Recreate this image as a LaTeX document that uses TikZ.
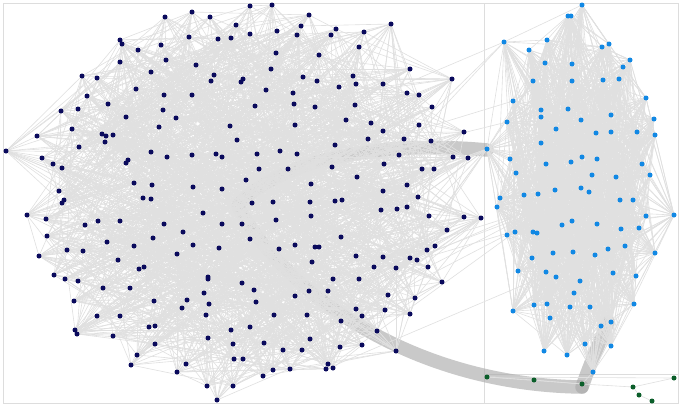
\documentclass[tikz,border=0pt]{standalone}
\begin{document}
\definecolor{navy}{HTML}{0A0A5C}
\definecolor{bluec}{HTML}{1188E4}
\definecolor{greenc}{HTML}{0B5E2A}
\definecolor{edgec}{HTML}{E0E0E0}
\definecolor{panelc}{HTML}{DDDDDD}
\definecolor{bundlec}{HTML}{A8A8A8}
\tikzset{
  edge/.style={draw=edgec, line width=0.6pt},
  panel/.style={draw=panelc, line width=0.9pt},
  bundle/.style={draw=bundlec, line width=13.5pt, opacity=0.62, line cap=round},
  ldot/.style={circle, fill=navy, inner sep=0pt, minimum size=5pt},
  bdot/.style={circle, fill=bluec, inner sep=0pt, minimum size=5pt},
  gdot/.style={circle, fill=greenc, inner sep=0pt, minimum size=5pt},
}
\begin{tikzpicture}[x=1pt,y=-1pt]
\useasboundingbox (0,0) rectangle (680,407);
\fill[white] (0,0) rectangle (680,407);
% panels
\draw[panel] (3,3) rectangle (678,403);
\draw[panel] (484,3) -- (484,403);
\draw[panel] (484,374) -- (678,374);
% left cluster coordinates
\foreach \x/\y [count=\n] in {
120/40,122/44,138/50,120/62,151/72,82/76,97/78,136/89,87/96,108/104,61/111,78/109,126/117,159/127,72/129,37/136,102/134,106/136,113/135,105/142,79/147,6/151,151/152,42/158,53/164,62/168,128/160,126/163,134/183,152/185,59/191,64/200,62/203,143/198,151/199,
165/17,192/12,210/17,250/6,272/5,309/15,236/25,301/26,189/37,218/39,231/38,250/34,277/31,297/35,161/45,166/60,276/53,319/55,196/65,271/69,214/75,211/81,243/79,241/82,303/77,317/81,266/90,164/95,192/95,293/93,294/104,315/107,255/106,163/110,176/118,230/126,295/125,237/140,167/157,192/155,216/154,222/157,257/154,280/151,297/154,259/169,288/169,246/180,193/187,222/189,311/184,252/203,273/202,310/202,
391/24,336/29,331/35,364/32,359/47,410/69,452/79,353/76,356/84,383/84,339/87,407/93,419/95,355/105,432/107,346/120,371/123,419/125,383/131,464/132,368/139,404/139,431/141,335/145,399/155,453/157,468/158,384/164,332/167,422/169,434/169,357/177,407/185,383/191,418/197,335/201,342/200,
27/215,46/219,85/225,98/221,120/221,47/236,107/242,153/238,134/246,39/256,67/250,83/251,118/260,139/269,144/267,54/275,65/279,78/281,103/288,130/288,74/301,154/301,97/316,120/316,149/327,155/326,75/330,77/334,113/336,155/344,137/355,131/365,
203/213,311/216,164/224,222/224,242/224,276/220,183/232,250/239,193/245,219/248,279/249,295/245,315/247,319/247,177/254,312/262,208/277,208/279,242/283,254/290,309/291,204/293,295/296,187/300,256/302,182/308,209/304,206/315,274/315,307/315,231/330,250/327,208/338,233/344,264/343,310/339,283/350,302/350,234/359,243/359,186/364,177/372,273/370,290/369,263/376,207/386,233/386,217/400,
381/210,397/209,407/207,429/216,464/217,481/218,447/230,341/237,356/256,383/257,410/258,417/260,427/250,435/246,374/267,396/268,428/267,333/279,359/279,442/282,328/291,388/295,415/298,356/309,385/310,362/316,410/314,341/321,377/331,362/345,340/347,396/351,328/364,326/369,333/368}
{ \coordinate (L\n) at (\x,\y); \xdef\NL{\n} }
% right cluster coordinates
\foreach \x/\y [count=\n] in {
582/5,568/16,571/16,504/42,547/40,529/50,602/47,609/44,630/60,623/67,545/63,572/64,533/81,572/81,603/80,619/79,646/98,513/101,541/110,541/117,568/109,611/115,581/120,654/119,507/122,556/129,655/135,596/133,611/132,637/132,541/143,487/149,510/159,582/157,597/159,571/162,546/164,642/164,516/173,592/175,616/177,650/175,500/198,524/195,538/194,555/190,581/188,589/192,620/200,633/200,
497/207,674/215,646/216,572/221,562/225,597/224,621/229,639/228,507/235,515/232,533/232,537/233,625/246,608/249,553/253,573/252,595/255,655/253,532/258,518/271,546/272,556/277,613/273,636/276,580/281,574/293,513/311,534/305,547/304,570/307,590/307,634/304,550/318,601/326,611/322,585/344,611/346,544/351,567/355,593/372}
{ \coordinate (B\n) at (\x,\y); \xdef\NB{\n} }
% small cluster coordinates
\foreach \x/\y [count=\n] in {487/377,534/380,582/384,633/387,674/378,639/395,652/401}
{ \coordinate (G\n) at (\x,\y); }
% bundles
\draw[bundle] (238,205) .. controls (280,160) and (380,140) .. (487,150);
\draw[bundle] (238,207) .. controls (290,300) and (420,385) .. (582,387);
\draw[bundle] (582,387) .. controls (590,365) .. (608,322);
% edges
\pgfmathsetseed{7}
\foreach \i in {1,...,\NL} {
  \foreach \k in {1,...,4} {
    \pgfmathtruncatemacro\j{random(1,\NL)}
    \draw[edge] (L\i) -- (L\j);
    \pgfmathtruncatemacro\m{mod(\i+random(1,50)-1,\NL)+1}
    \draw[edge] (L\i) -- (L\m);
  }
}
\foreach \i in {1,...,\NB} {
  \foreach \k in {1,...,18} {
    \pgfmathtruncatemacro\j{random(1,\NB)}
    \draw[edge] (B\i) -- (B\j);
  }
}
% edges between the two large clusters
\foreach \a/\b in {199/32,200/32,201/32,140/32,151/32,152/32,153/32,145/32,170/32,228/32,239/32,240/32,222/47,223/47,225/48,234/48,114/4,111/4,132/4,131/18,132/25,216/48,218/49,240/60,240/64}
  \draw[edge] (L\a) -- (B\b);
% small cluster edges
\foreach \a/\b in {1/2,2/3,1/3,3/4,4/5,4/6,6/7,1/5}
  \draw[edge] (G\a) -- (G\b);
\draw[edge] (G3) -- (B\NB);
% dots
\foreach \i in {1,...,\NL} \node[ldot] at (L\i) {};
\foreach \i in {1,...,\NB} \node[bdot] at (B\i) {};
\foreach \i in {1,...,7} \node[gdot] at (G\i) {};
\end{tikzpicture}
\end{document}
